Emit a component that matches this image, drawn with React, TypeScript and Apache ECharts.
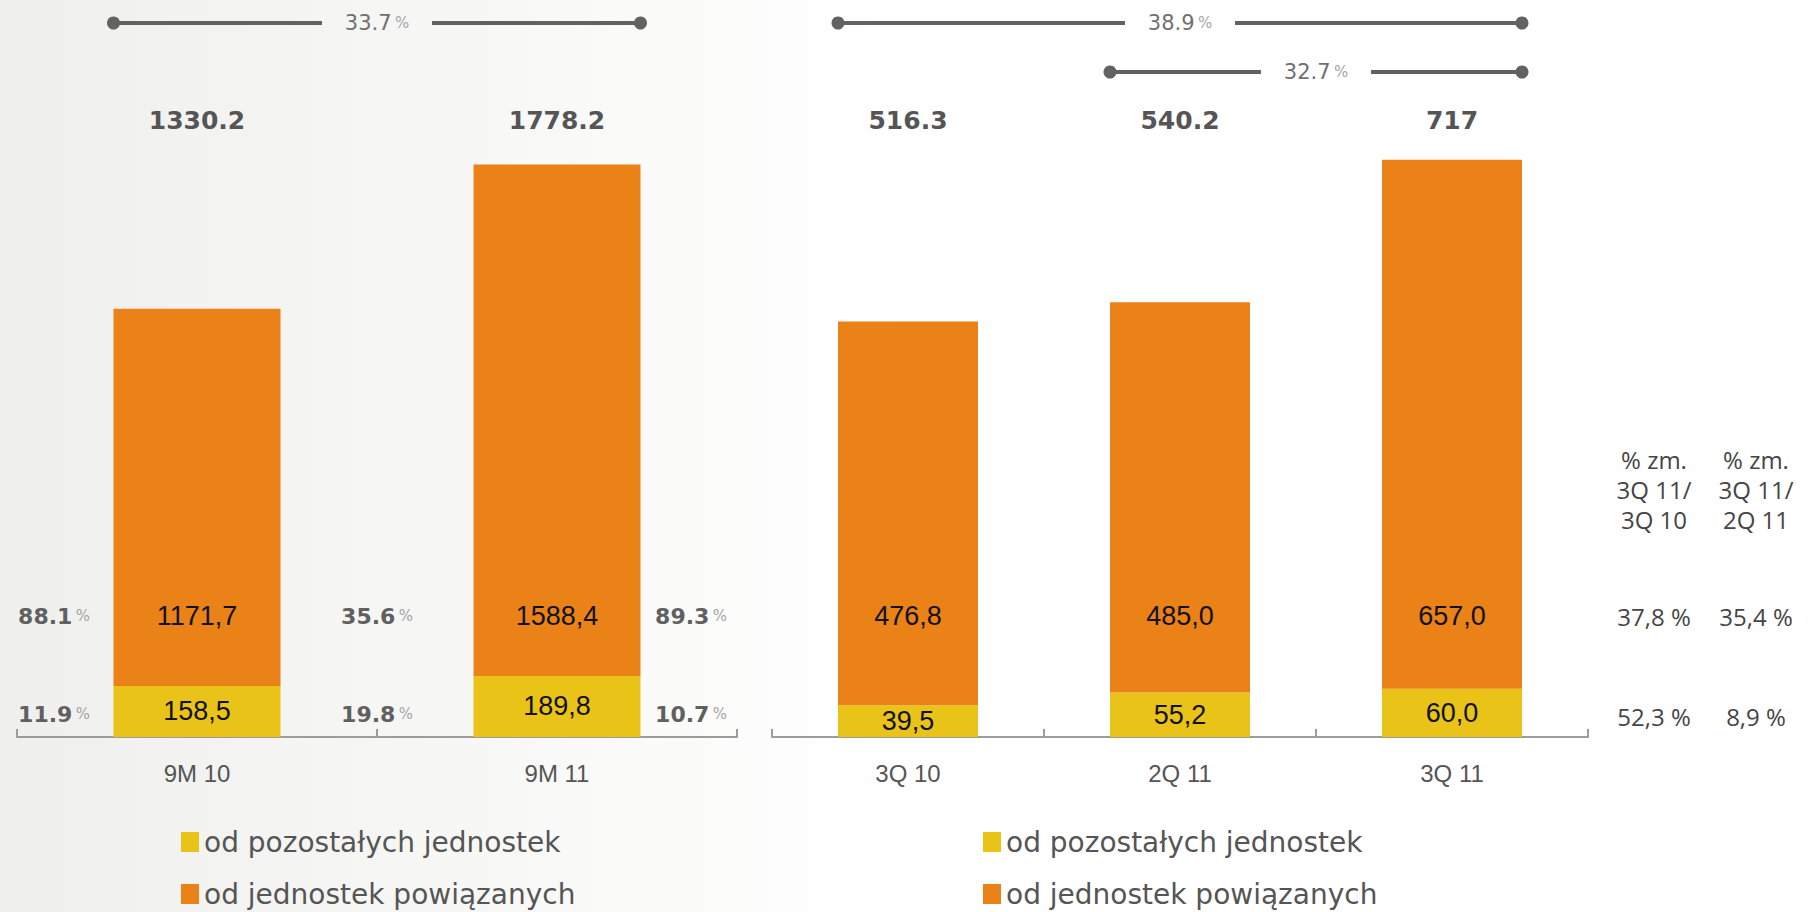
import React, { useEffect, useRef } from 'react';
import * as echarts from 'echarts';

// ---------- data ----------
const seriesOtherName = 'od pozostałych jednostek';
const seriesRelatedName = 'od jednostek powiązanych';

const leftCategories = ['9M 10', '9M 11'];
const leftOther = [158.5, 189.8];
const leftRelated = [1171.7, 1588.4];
const leftTotals = ['1330.2', '1778.2'];

const rightCategories = ['3Q 10', '2Q 11', '3Q 11'];
const rightOther = [39.5, 55.2, 60.0];
const rightRelated = [476.8, 485.0, 657.0];
const rightTotals = ['516.3', '540.2', '717'];

// side percentages of the left panel: [before 9M 10, between, after 9M 11]
const leftSideRelated = ['88.1', '35.6', '89.3'];
const leftSideOther = ['11.9', '19.8', '10.7'];

// growth brackets
const growthLeft = '33.7';
const growthRightYear = '38.9';
const growthRightQuarter = '32.7';

// table on the right
const tableHeaders = [
  ['% zm.', '3Q 11/', '3Q 10'],
  ['% zm.', '3Q 11/', '2Q 11'],
];
const tableRelated = ['37,8 %', '35,4 %'];
const tableOther = ['52,3 %', '8,9 %'];

// ---------- styles ----------
const ORANGE = '#EA8217';
const YELLOW = '#E9C318';
const AXIS_GREY = '#9c9c9c';
const BAR_LEFT_W = 167;
const BAR_RIGHT_W = 140;

const fmtComma = (v: number) => v.toFixed(1).replace('.', ',');

function labelSeries(axisIdx: number, related: number[], totals: string[]) {
  return {
    type: 'custom',
    xAxisIndex: axisIdx,
    yAxisIndex: axisIdx,
    data: related.map((v, i) => [i, v]),
    encode: { x: 0, y: 1 },
    z: 10,
    silent: true,
    clip: false,
    renderItem: (params: any, api: any) => {
      const base = api.coord([api.value(0), 0]);
      const i = params.dataIndex;
      return {
        type: 'group',
        children: [
          {
            type: 'text',
            x: base[0],
            y: base[1] - 121,
            style: {
              text: fmtComma(api.value(1)),
              fill: '#111111',
              font: '27px "Liberation Sans", Arial, sans-serif',
              align: 'center',
              verticalAlign: 'middle',
              textAlign: 'center',
              textVerticalAlign: 'middle',
            },
          },
          {
            type: 'text',
            x: base[0],
            y: base[1] - 617,
            style: {
              text: totals[i],
              fill: '#555555',
              font: 'bold 25px "DejaVu Sans", sans-serif',
              align: 'center',
              verticalAlign: 'middle',
              textAlign: 'center',
              textVerticalAlign: 'middle',
            },
          },
        ],
      };
    },
  };
}

function barSeries(name: string, axisIdx: number, data: number[], color: string, stack: string, width: number, showLabel: boolean) {
  return {
    name,
    type: 'bar',
    xAxisIndex: axisIdx,
    yAxisIndex: axisIdx,
    stack,
    barWidth: width,
    data,
    itemStyle: { color },
    label: showLabel
      ? {
          show: true,
          position: 'inside',
          color: '#111111',
          fontSize: 27,
          fontFamily: '"Liberation Sans", Arial, sans-serif',
          formatter: (p: any) => fmtComma(p.value),
        }
      : { show: false },
    emphasis: { disabled: true },
  };
}

function xAxis(gridIndex: number, data: string[]) {
  return {
    type: 'category',
    gridIndex,
    data,
    axisLine: { show: true, lineStyle: { color: AXIS_GREY, width: 2 } },
    axisTick: { show: true, inside: true, length: 8, lineStyle: { color: AXIS_GREY, width: 2 } },
    axisLabel: {
      color: '#555555',
      fontSize: 24,
      fontFamily: '"Liberation Sans", Arial, sans-serif',
      margin: 24,
    },
    splitLine: { show: false },
  };
}

function yAxis(gridIndex: number, max: number) {
  return {
    type: 'value',
    gridIndex,
    min: 0,
    max,
    show: false,
    splitLine: { show: false },
  };
}

const legendItem = (name: string, left: number, top: number) => ({
  orient: 'horizontal',
  left,
  top,
  itemWidth: 18,
  itemHeight: 20,
  icon: 'rect',
  selectedMode: false,
  padding: 0,
  textStyle: { color: '#555555', fontSize: 28, fontFamily: '"DejaVu Sans", sans-serif' },
  data: [name],
});

const pctRich = (num: string, size: number, color: string, weight: string = 'normal') => ({
  text: `{n|${num}} {p|%}`,
  rich: {
    n: { fontSize: size, fontWeight: weight, fontFamily: '"DejaVu Sans", sans-serif', fill: color, color },
    p: { fontSize: 15, fontFamily: '"DejaVu Sans", sans-serif', fill: '#a5a5a5', color: '#a5a5a5' },
  },
  align: 'center',
  verticalAlign: 'middle',
  textAlign: 'center',
  textVerticalAlign: 'middle',
});

export default function App() {
  const ref = useRef<HTMLDivElement>(null);

  useEffect(() => {
    if (!ref.current) return;
    const chart = echarts.init(ref.current, undefined, { renderer: 'svg' });

    chart.setOption({
      animation: false,
      backgroundColor: '#ffffff',
      grid: [
        { left: 17, right: 1077, top: 93, bottom: 175 },
        { left: 772, right: 226, top: 93, bottom: 175 },
      ],
      xAxis: [xAxis(0, leftCategories), xAxis(1, rightCategories)],
      yAxis: [yAxis(0, 2000), yAxis(1, 800)],
      legend: [
        legendItem(seriesOtherName, 181, 828),
        legendItem(seriesRelatedName, 181, 880),
        legendItem(seriesOtherName, 983, 828),
        legendItem(seriesRelatedName, 983, 880),
      ],
      series: [
        barSeries(seriesOtherName, 0, leftOther, YELLOW, 'L', BAR_LEFT_W, true),
        barSeries(seriesRelatedName, 0, leftRelated, ORANGE, 'L', BAR_LEFT_W, false),
        barSeries(seriesOtherName, 1, rightOther, YELLOW, 'R', BAR_RIGHT_W, true),
        barSeries(seriesRelatedName, 1, rightRelated, ORANGE, 'R', BAR_RIGHT_W, false),
        labelSeries(0, leftRelated, leftTotals),
        labelSeries(1, rightRelated, rightTotals),
      ],
    });

    // positions derived from the axes
    const lc = leftCategories.map((_, i) => chart.convertToPixel({ gridIndex: 0 }, [i, 0]) as number[]);
    const rc = rightCategories.map((_, i) => chart.convertToPixel({ gridIndex: 1 }, [i, 0]) as number[]);
    const hl = BAR_LEFT_W / 2;
    const hr = BAR_RIGHT_W / 2;

    const LINE = '#626262';
    const bracket = (x1: number, x2: number, y: number, label: string) => {
      const mid = (x1 + x2) / 2;
      const gap = 55;
      return [
        { type: 'line', shape: { x1, y1: y, x2: mid - gap, y2: y }, style: { stroke: LINE, lineWidth: 4 } },
        { type: 'line', shape: { x1: mid + gap, y1: y, x2, y2: y }, style: { stroke: LINE, lineWidth: 4 } },
        { type: 'circle', shape: { cx: x1, cy: y, r: 6.5 }, style: { fill: LINE } },
        { type: 'circle', shape: { cx: x2, cy: y, r: 6.5 }, style: { fill: LINE } },
        { type: 'text', x: mid, y, style: pctRich(label, 21, '#707070') },
      ];
    };

    const axisY = lc[0][1];
    const sideXs = [lc[0][0] - 143, (lc[0][0] + lc[1][0]) / 2, lc[1][0] + 134];
    const sideTexts: any[] = [];
    sideXs.forEach((x, i) => {
      sideTexts.push({ type: 'text', x, y: axisY - 121, style: pctRich(leftSideRelated[i], 22, '#606060', 'bold') });
      sideTexts.push({ type: 'text', x, y: axisY - 23, style: pctRich(leftSideOther[i], 22, '#606060', 'bold') });
    });

    const tableFont = '24px "Open Sans", sans-serif';
    const tableColX = [1654, 1756];
    const tableTexts: any[] = [];
    tableColX.forEach((x, c) => {
      tableHeaders[c].forEach((t, r) => {
        tableTexts.push({
          type: 'text', x, y: 459 + r * 30,
          style: { text: t, font: tableFont, fill: '#454545', align: 'center', verticalAlign: 'middle', textAlign: 'center', textVerticalAlign: 'middle' },
        });
      });
      tableTexts.push({
        type: 'text', x, y: axisY - 121,
        style: { text: tableRelated[c], font: tableFont, fill: '#454545', align: 'center', verticalAlign: 'middle', textAlign: 'center', textVerticalAlign: 'middle' },
      });
      tableTexts.push({
        type: 'text', x, y: axisY - 21,
        style: { text: tableOther[c], font: tableFont, fill: '#454545', align: 'center', verticalAlign: 'middle', textAlign: 'center', textVerticalAlign: 'middle' },
      });
    });

    chart.setOption({
      graphic: [
        {
          type: 'rect',
          z: -10,
          silent: true,
          shape: { x: 0, y: 0, width: 900, height: 912 },
          style: {
            fill: new echarts.graphic.LinearGradient(0, 0, 1, 0, [
              { offset: 0, color: '#efefed' },
              { offset: 0.5, color: '#f7f7f6' },
              { offset: 1, color: '#ffffff' },
            ]),
          },
        },
        ...bracket(lc[0][0] - hl, lc[1][0] + hl, 23, growthLeft),
        ...bracket(rc[0][0] - hr, rc[2][0] + hr, 23, growthRightYear),
        ...bracket(rc[1][0] - hr, rc[2][0] + hr, 72, growthRightQuarter),
        ...sideTexts,
        ...tableTexts,
      ],
    });

    return () => chart.dispose();
  }, []);

  return (
    <div
      ref={ref}
      style={{ position: 'absolute', left: 0, top: 0, width: '1814px', height: '912px' }}
    />
  );
}
